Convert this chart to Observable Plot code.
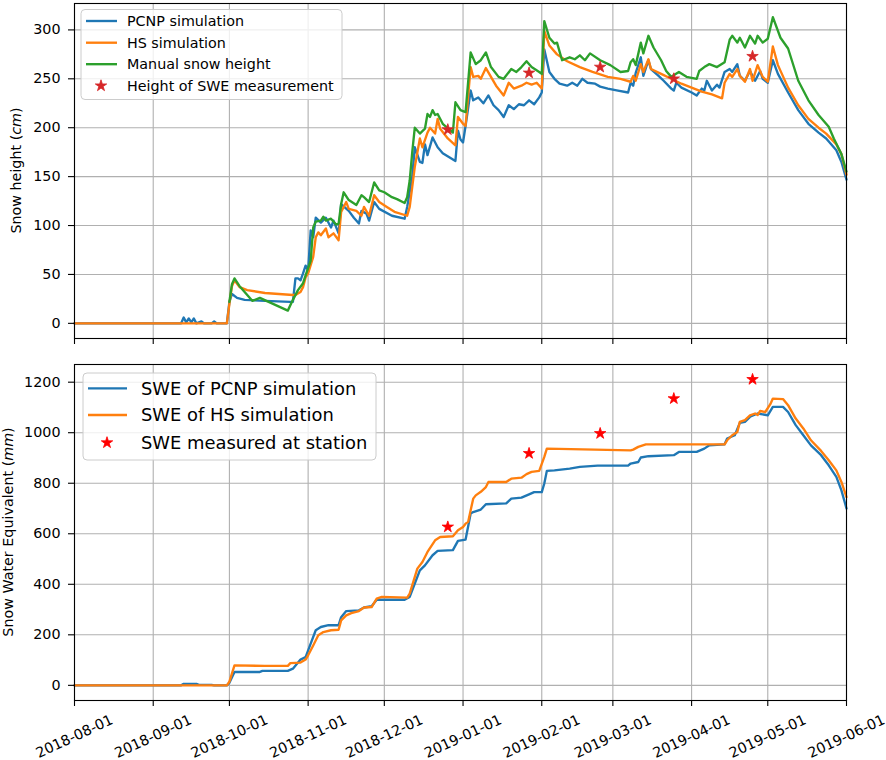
<!DOCTYPE html>
<html><head><meta charset="utf-8">
<script src="https://cdn.jsdelivr.net/npm/d3@7"></script>
<script src="https://cdn.jsdelivr.net/npm/@observablehq/plot@0.6"></script>
<style>
body{margin:0;background:#fff;}
#chart{width:886px;}
#chart svg{display:block;}
</style></head><body><div id="chart"></div>
<script>
// ---------- data ----------
const xTickLabels = ["2018-08-01","2018-09-01","2018-10-01","2018-11-01","2018-12-01","2019-01-01","2019-02-01","2019-03-01","2019-04-01","2019-05-01","2019-06-01"];
const heightTicks = [0,50,100,150,200,250,300];
const sweTicks = [0,200,400,600,800,1000,1200];
const topLegend = ["PCNP simulation","HS simulation","Manual snow height","Height of SWE measurement"];
const bottomLegend = ["SWE of PCNP simulation","SWE of HS simulation","SWE measured at station"];
const colors = ["#1f77b4","#ff7f0e","#2ca02c"];

const pcnpHeight = [["2018-08-01",0],["2018-09-12",0],["2018-09-13",6],["2018-09-14",1],["2018-09-15",5],["2018-09-16",1],["2018-09-17",5],["2018-09-18",0],["2018-09-20",2],["2018-09-21",0],["2018-09-24",0],["2018-09-25",2],["2018-09-26",0],["2018-09-30",0],
["2018-10-01",22],["2018-10-02",30],["2018-10-04",26],["2018-10-07",24],["2018-10-15",23],["2018-10-25",22],["2018-10-26",22],["2018-10-27",46],["2018-10-28",46],["2018-10-29",44],["2018-10-30",51],["2018-10-31",59],["2018-11-01",54],["2018-11-02",95],["2018-11-03",88],["2018-11-04",108],["2018-11-06",103],["2018-11-08",108],["2018-11-10",98],["2018-11-11",105],["2018-11-13",92],["2018-11-14",122],["2018-11-17",115],["2018-11-19",108],["2018-11-21",102],["2018-11-22",115],["2018-11-24",112],["2018-11-25",105],["2018-11-27",124],["2018-11-29",117],["2018-12-04",110],["2018-12-09",107],["2018-12-10",119],["2018-12-12",150],["2018-12-13",180],["2018-12-15",165],["2018-12-16",164],["2018-12-17",183],["2018-12-18",172],["2018-12-20",190],["2018-12-22",180],["2018-12-24",174],["2018-12-29",166],["2018-12-30",197],["2018-12-31",188],
["2019-01-01",185],["2019-01-02",202],["2019-01-04",238],["2019-01-05",228],["2019-01-07",231],["2019-01-09",225],["2019-01-11",233],["2019-01-13",223],["2019-01-15",218],["2019-01-17",211],["2019-01-19",223],["2019-01-21",219],["2019-01-23",224],["2019-01-25",223],["2019-01-27",228],["2019-01-29",224],["2019-01-31",231],["2019-02-01",236],["2019-02-02",280],["2019-02-04",257],["2019-02-06",250],["2019-02-08",245],["2019-02-11",243],["2019-02-13",246],["2019-02-15",243],["2019-02-17",250],["2019-02-19",246],["2019-02-22",245],["2019-02-24",242],["2019-02-27",240],["2019-03-03",238],["2019-03-07",236],["2019-03-08",246],["2019-03-09",243],["2019-03-10",256],["2019-03-12",272],["2019-03-13",253],["2019-03-15",269],["2019-03-16",260],["2019-03-19",253],["2019-03-21",248],["2019-03-24",240],["2019-03-25",238],["2019-03-26",246],["2019-03-28",241],["2019-04-01",236],["2019-04-03",233],["2019-04-05",240],["2019-04-06",238],["2019-04-07",248],["2019-04-09",238],["2019-04-11",244],["2019-04-12",241],["2019-04-14",257],["2019-04-16",260],["2019-04-17",257],["2019-04-19",265],["2019-04-20",253],["2019-04-22",248],["2019-04-24",258],["2019-04-26",248],["2019-04-28",258],["2019-04-29",250],["2019-05-01",246],["2019-05-03",269],["2019-05-05",255],["2019-05-09",236],["2019-05-13",218],["2019-05-17",204],["2019-05-21",195],["2019-05-24",189],["2019-05-28",177],["2019-05-30",165],["2019-06-01",147]];

const hsHeight = [["2018-08-01",0],["2018-09-30",0],["2018-10-01",20],["2018-10-02",38],["2018-10-03",44],["2018-10-05",37],["2018-10-08",34],["2018-10-15",31],["2018-10-26",29],["2018-10-27",29],["2018-10-29",32],["2018-10-30",37],["2018-10-31",47],["2018-11-01",51],["2018-11-03",68],["2018-11-04",88],["2018-11-05",93],["2018-11-06",90],["2018-11-08",97],["2018-11-09",88],["2018-11-11",92],["2018-11-13",85],["2018-11-14",114],["2018-11-16",124],["2018-11-17",117],["2018-11-20",115],["2018-11-22",110],["2018-11-23",119],["2018-11-25",110],["2018-11-27",131],["2018-11-29",124],["2018-12-02",119],["2018-12-05",114],["2018-12-10",110],["2018-12-11",119],["2018-12-13",160],["2018-12-15",189],["2018-12-16",180],["2018-12-18",195],["2018-12-19",200],["2018-12-21",194],["2018-12-22",209],["2018-12-23",199],["2018-12-26",189],["2018-12-29",182],["2018-12-30",211],
["2019-01-01",204],["2019-01-02",202],["2019-01-04",262],["2019-01-05",252],["2019-01-07",253],["2019-01-08",250],["2019-01-10",261],["2019-01-12",252],["2019-01-14",243],["2019-01-17",233],["2019-01-19",246],["2019-01-21",240],["2019-01-24",243],["2019-01-26",246],["2019-01-28",244],["2019-01-30",246],["2019-02-01",240],["2019-02-02",299],["2019-02-04",284],["2019-02-07",275],["2019-02-11",268],["2019-02-16",262],["2019-02-21",257],["2019-02-27",252],["2019-03-04",250],["2019-03-08",247],["2019-03-09",253],["2019-03-10",248],["2019-03-12",265],["2019-03-13",257],["2019-03-15",270],["2019-03-16",260],["2019-03-20",255],["2019-03-24",250],["2019-03-28",245],["2019-04-01",241],["2019-04-05",237],["2019-04-09",234],["2019-04-13",230],["2019-04-14",246],["2019-04-16",255],["2019-04-17",252],["2019-04-19",260],["2019-04-20",253],["2019-04-22",247],["2019-04-24",260],["2019-04-25",248],["2019-04-27",264],["2019-04-29",252],["2019-05-01",247],["2019-05-03",283],["2019-05-05",264],["2019-05-09",241],["2019-05-13",223],["2019-05-17",209],["2019-05-21",200],["2019-05-24",194],["2019-05-28",183],["2019-05-30",173],["2019-06-01",152]];

const manualHeight = [["2018-10-01",22],["2018-10-02",40],["2018-10-03",46],["2018-10-05",38],["2018-10-07",32],["2018-10-10",23],["2018-10-13",26],["2018-10-24",13],["2018-10-26",24],["2018-10-28",34],["2018-10-30",41],["2018-10-31",49],["2018-11-02",64],["2018-11-03",98],["2018-11-04",104],["2018-11-06",105],["2018-11-07",109],["2018-11-08",105],["2018-11-10",107],["2018-11-12",101],["2018-11-13",102],["2018-11-14",122],["2018-11-15",134],["2018-11-17",126],["2018-11-20",121],["2018-11-22",131],["2018-11-23",129],["2018-11-25",124],["2018-11-27",144],["2018-11-29",136],["2018-12-01",134],["2018-12-04",129],["2018-12-06",127],["2018-12-09",123],["2018-12-10",129],["2018-12-11",146],["2018-12-12",175],["2018-12-13",200],["2018-12-15",194],["2018-12-17",199],["2018-12-18",214],["2018-12-19",211],["2018-12-20",218],["2018-12-21",213],["2018-12-22",214],["2018-12-24",204],["2018-12-28",195],["2018-12-29",226],["2018-12-31",218],
["2019-01-02",216],["2019-01-04",277],["2019-01-06",265],["2019-01-08",269],["2019-01-10",277],["2019-01-12",262],["2019-01-15",252],["2019-01-17",250],["2019-01-20",260],["2019-01-22",257],["2019-01-24",262],["2019-01-26",268],["2019-01-28",262],["2019-01-31",257],["2019-02-01",255],["2019-02-02",309],["2019-02-04",292],["2019-02-06",286],["2019-02-07",287],["2019-02-09",269],["2019-02-12",272],["2019-02-14",270],["2019-02-16",274],["2019-02-18",269],["2019-02-20",276],["2019-02-24",269],["2019-02-28",264],["2019-03-04",257],["2019-03-07",258],["2019-03-08",267],["2019-03-09",270],["2019-03-10",264],["2019-03-12",287],["2019-03-13",276],["2019-03-15",294],["2019-03-17",282],["2019-03-20",269],["2019-03-22",258],["2019-03-24",252],["2019-03-27",257],["2019-03-30",252],["2019-04-03",250],["2019-04-04",258],["2019-04-06",262],["2019-04-08",265],["2019-04-11",262],["2019-04-14",267],["2019-04-16",290],["2019-04-17",294],["2019-04-19",287],["2019-04-20",292],["2019-04-22",282],["2019-04-24",294],["2019-04-26",286],["2019-04-27",294],["2019-04-29",287],["2019-05-01",291],["2019-05-03",313],["2019-05-06",292],["2019-05-09",281],["2019-05-13",248],["2019-05-17",228],["2019-05-21",213],["2019-05-25",201],["2019-05-27",189],["2019-05-30",173],["2019-06-01",155]];

const sweDates = ["2018-12-26","2019-01-27","2019-02-24","2019-03-25","2019-04-25"];
const sweMeasHeight = [198,256,262,250,273];
const sweMeasured = [627,918,997,1135,1211];

const pcnpSwe = [["2018-08-01",0],["2018-09-12",0],["2018-09-13",6],["2018-09-18",6],["2018-09-19",2],["2018-09-24",2],["2018-09-25",0],["2018-09-30",0],["2018-10-01",10],["2018-10-03",53],["2018-10-13",53],["2018-10-14",57],["2018-10-24",57],["2018-10-26",66],["2018-10-29",102],["2018-10-31",112],["2018-11-02",165],["2018-11-04",218],["2018-11-06",231],["2018-11-09",238],["2018-11-13",238],["2018-11-14",270],["2018-11-16",294],["2018-11-21",297],["2018-11-23",308],["2018-11-26",313],["2018-11-28",339],["2018-12-09",339],["2018-12-11",350],["2018-12-13",403],["2018-12-15",455],["2018-12-17",475],["2018-12-20",515],["2018-12-22",532],["2018-12-28",535],["2018-12-30",572],["2019-01-02",577],["2019-01-04",680],["2019-01-05",686],["2019-01-08",696],["2019-01-10",717],["2019-01-18",720],["2019-01-20",739],["2019-01-24",743],["2019-01-27",756],["2019-01-29",765],["2019-02-01",765],["2019-02-02",799],["2019-02-03",849],["2019-02-06",851],["2019-02-12",858],["2019-02-16",865],["2019-02-23",870],["2019-03-07",870],["2019-03-08",878],["2019-03-11",884],["2019-03-12",902],["2019-03-15",907],["2019-03-25",911],["2019-03-27",924],["2019-04-03",924],["2019-04-06",937],["2019-04-08",950],["2019-04-14",954],["2019-04-15",977],["2019-04-18",990],["2019-04-20",1039],["2019-04-22",1043],["2019-04-24",1063],["2019-04-27",1076],["2019-05-01",1069],["2019-05-03",1102],["2019-05-07",1102],["2019-05-09",1082],["2019-05-12",1030],["2019-05-15",990],["2019-05-18",950],["2019-05-22",911],["2019-05-25",871],["2019-05-28",825],["2019-05-30",772],["2019-06-01",700]];

const hsSwe = [["2018-08-01",0],["2018-09-30",0],["2018-10-01",15],["2018-10-03",79],["2018-10-15",77],["2018-10-24",77],["2018-10-25",88],["2018-10-29",90],["2018-10-31",102],["2018-11-01",119],["2018-11-03",158],["2018-11-05",198],["2018-11-07",211],["2018-11-10",218],["2018-11-13",220],["2018-11-14",257],["2018-11-16",277],["2018-11-18",286],["2018-11-21",294],["2018-11-23",308],["2018-11-26",310],["2018-11-28",343],["2018-11-30",350],["2018-12-10",347],["2018-12-11",363],["2018-12-14",462],["2018-12-16",488],["2018-12-18",528],["2018-12-21",574],["2018-12-23",587],["2018-12-28",590],["2018-12-30",614],["2019-01-01",627],["2019-01-02",640],["2019-01-03",647],["2019-01-05",739],["2019-01-06",752],["2019-01-08",766],["2019-01-10",785],["2019-01-11",805],["2019-01-18",805],["2019-01-20",818],["2019-01-24",822],["2019-01-26",836],["2019-01-28",845],["2019-01-31",849],["2019-02-02",904],["2019-02-03",937],["2019-03-08",930],["2019-03-09",933],["2019-03-11",944],["2019-03-14",954],["2019-04-14",954],["2019-04-15",970],["2019-04-17",990],["2019-04-19",1003],["2019-04-20",1043],["2019-04-22",1050],["2019-04-24",1069],["2019-04-26",1076],["2019-04-27",1070],["2019-04-28",1086],["2019-04-30",1082],["2019-05-02",1113],["2019-05-03",1135],["2019-05-07",1133],["2019-05-09",1109],["2019-05-12",1056],["2019-05-15",1017],["2019-05-18",970],["2019-05-22",928],["2019-05-25",891],["2019-05-28",851],["2019-05-30",805],["2019-06-01",745]];

// ---------- helpers ----------
const parse = d3.utcParse("%Y-%m-%d");
const rows = arr => arr.map(([d, v]) => ({date: parse(d), value: v}));
const starRows = vals => sweDates.map((d, i) => ({date: parse(d), value: vals[i]}));
const xDomain = [parse(xTickLabels[0]), parse(xTickLabels[xTickLabels.length - 1])];
const xTicks = xTickLabels.map(parse);
const FONT = "'DejaVu Sans', sans-serif";
const LW = 2.35, GRID = "#b0b0b0", STAR_R = 3.6;
const gridOpts = {stroke: GRID, strokeOpacity: 1, strokeWidth: 1.1};

function panel({height, marginTop, marginBottom, yDomain, yTicks, series, stars, starColor, xLabels}) {
  const marks = [
    Plot.gridX(xTicks, gridOpts),
    Plot.gridY(yTicks, gridOpts),
    ...series.map((s, i) => Plot.line(rows(s), {x: "date", y: "value", stroke: colors[i], strokeWidth: LW, strokeLinejoin: "round"})),
    Plot.dot(stars, {x: "date", y: "value", symbol: "star", r: STAR_R, fill: starColor, stroke: starColor, strokeWidth: 0.8}),
    Plot.axisY(yTicks, {tickSize: 6, tickPadding: 8, label: null, tickFormat: d => String(d), strokeWidth: 1.1}),
    Plot.axisX(xTicks, {tickSize: 6, tickFormat: () => "", label: null, strokeWidth: 1.1}),
    Plot.frame({stroke: "#000", strokeWidth: 1.1})
  ];
  if (xLabels) marks.push(Plot.text(xTicks, {x: d => d, frameAnchor: "bottom", dy: 36, rotate: -25,
    text: d => d3.utcFormat("%Y-%m-%d")(d), textAnchor: "middle", lineAnchor: "middle", fill: "#000"}));
  return Plot.plot({
    width: 886, height, marginLeft: 74, marginRight: 40, marginTop, marginBottom,
    style: {fontFamily: FONT, fontSize: "14.3px", color: "#000", background: "#fff", overflow: "visible"},
    x: {type: "utc", domain: xDomain},
    y: {domain: yDomain},
    marks
  });
}

function addYLabel(svg, x, y, main, unit) {
  const t = d3.select(svg).append("text")
    .attr("transform", `translate(${x},${y}) rotate(-90)`)
    .attr("text-anchor", "middle").attr("fill", "#000")
    .style("font-family", FONT).style("font-size", "14.3px");
  t.append("tspan").text(main + " (");
  t.append("tspan").attr("font-style", "italic").text(unit);
  t.append("tspan").text(")");
}

function addLegend(svg, {box, rowsY, lineX, starX, textX, fontSize, labels, nLines, starColor}) {
  const g = d3.select(svg).append("g").attr("text-anchor", "start");
  g.append("rect").attr("x", box[0]).attr("y", box[1]).attr("width", box[2]).attr("height", box[3])
    .attr("rx", 4).attr("fill", "#fff").attr("fill-opacity", 0.8).attr("stroke", "#cccccc").attr("stroke-width", 1);
  labels.forEach((lab, i) => {
    const y = rowsY[i];
    if (i < nLines) {
      g.append("line").attr("x1", lineX[0]).attr("x2", lineX[1]).attr("y1", y).attr("y2", y)
        .attr("stroke", colors[i]).attr("stroke-width", LW);
    } else {
      g.append("path").attr("d", d3.symbol(d3.symbolStar, STAR_R * STAR_R * Math.PI)())
        .attr("transform", `translate(${starX},${y})`).attr("fill", starColor)
        .attr("stroke", starColor).attr("stroke-width", 0.8);
    }
    g.append("text").attr("x", textX).attr("y", y + fontSize * 0.36).attr("text-anchor", "start").text(lab)
      .attr("fill", "#000").style("font-family", FONT).style("font-size", fontSize + "px");
  });
}

// ---------- top panel ----------
const topSvg = panel({height: 352, marginTop: 3, marginBottom: 14, yDomain: [-15.5, 327], yTicks: heightTicks,
  series: [pcnpHeight, hsHeight, manualHeight], stars: starRows(sweMeasHeight), starColor: "#d62728", xLabels: false});
addYLabel(topSvg, 20.5, 170.5, "Snow height", "cm");
addLegend(topSvg, {box: [81, 9.5, 261, 90], rowsY: [21, 42.7, 64.2, 85.8], lineX: [86, 117], starX: 101, textX: 127,
  fontSize: 14.3, labels: topLegend, nLines: 3, starColor: "#d62728"});

// ---------- bottom panel ----------
const botSvg = panel({height: 408, marginTop: 12, marginBottom: 60, yDomain: [-60, 1270], yTicks: sweTicks,
  series: [pcnpSwe, hsSwe], stars: starRows(sweMeasured), starColor: "#ff0000", xLabels: true});
addYLabel(botSvg, 12.5, 180, "Snow Water Equivalent", "mm");
addLegend(botSvg, {box: [83, 21, 293, 87], rowsY: [36.3, 63, 90.7], lineX: [88, 127], starX: 107, textX: 141,
  fontSize: 17.9, labels: bottomLegend, nLines: 2, starColor: "#ff0000"});

document.getElementById("chart").append(topSvg, botSvg);
</script>
</body></html>
